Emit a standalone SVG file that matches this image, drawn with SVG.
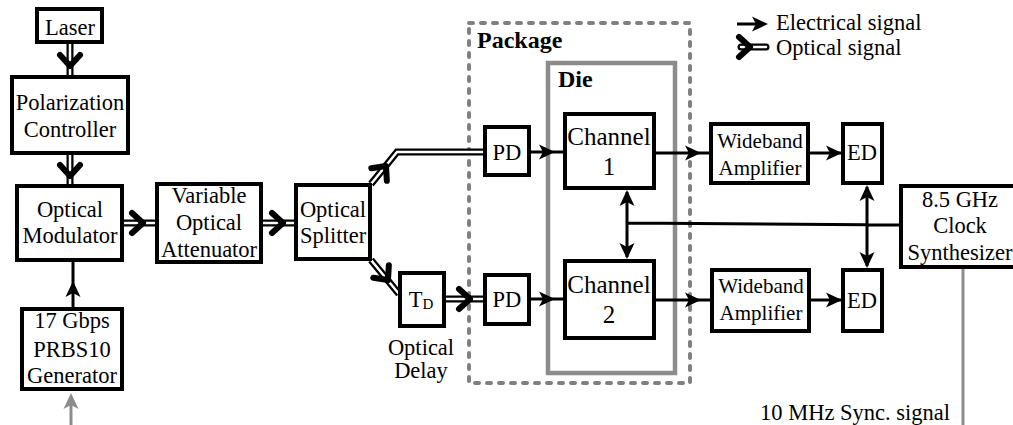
<svg xmlns="http://www.w3.org/2000/svg" xmlns:xlink="http://www.w3.org/1999/xlink" width="1013" height="425" viewBox="0 0 1013 425" font-family="'Liberation Serif', 'Times New Roman', 'DejaVu Serif', serif">
  <style>
    text { font-family: 'Liberation Serif', 'Times New Roman', 'DejaVu Serif', serif; fill: #000; }
    .t { font-size: 22.5px; text-anchor: middle; }
    .ch { font-size: 25px; text-anchor: middle; }
    .wa { font-size: 21px; text-anchor: middle; }
    .lg { font-size: 22.5px; }
    .lbl { font-size: 24px; font-weight: bold; }
    .box { fill: #fff; stroke: #000; stroke-width: 4; }
    .pkg { fill: none; stroke: #808080; stroke-width: 4; stroke-dasharray: 4 8; stroke-linecap: round; }
    .die { fill: none; stroke: #8c8c8c; stroke-width: 4.5; }
    .opt-o { fill: none; stroke: #000; stroke-width: 7; }
    .opt-i { fill: none; stroke: #fff; stroke-width: 2.5; }
    .el { fill: none; stroke: #000; stroke-width: 3; }
    .el-g { fill: none; stroke: #8c8c8c; stroke-width: 3; }
  </style>
  <defs>
    <!-- electrical arrowhead, tip at origin, pointing +x -->
    <path id="eh" d="M0 0 L-16 -7.5 L-12 0 L-16 7.5 Z"/>
    <!-- optical chevron, tip at origin, pointing +x -->
    <path id="oh" d="M-11 -10 L0 0 L-11 10" fill="none" stroke="#000" stroke-width="6" stroke-linecap="round" stroke-linejoin="round"/>
  </defs>

  <!-- enclosures -->
  <g id="package">
    <rect class="pkg" x="469" y="23" width="221" height="360"/>
    <text class="lbl" x="477" y="48">Package</text>
  </g>
  <g id="die">
    <rect class="die" x="548" y="63" width="127" height="310"/>
    <text class="lbl" x="558" y="87">Die</text>
  </g>

  <!-- connectors -->
  <g id="connectors">
    <!-- optical links -->
    <path class="opt-o" d="M70 44 V75 M70 155 V184 M124 223 H155 M263 223 H294 M371 184 L397 152 H483 M371 260 L399 294 M446 299 H483"/>
    <path class="opt-i" d="M70 44 V75 M70 155 V184 M124 223 H155 M263 223 H294 M371 184 L397 152 H483 M371 260 L399 294 M446 299 H483"/>
    <use xlink:href="#oh" transform="translate(70,66) rotate(90)"/>
    <use xlink:href="#oh" transform="translate(70,176) rotate(90)"/>
    <use xlink:href="#oh" transform="translate(143,223)"/>
    <use xlink:href="#oh" transform="translate(283,223)"/>
    <use xlink:href="#oh" transform="translate(386,166) rotate(-51)"/>
    <use xlink:href="#oh" transform="translate(388,280) rotate(51)"/>
    <use xlink:href="#oh" transform="translate(470,299)"/>

    <!-- electrical links -->
    <path class="el" d="M73 309 V262"/>
    <use xlink:href="#eh" transform="translate(73,281) rotate(-90)"/>
    <path class="el-g" d="M71 425 V398"/>
    <use xlink:href="#eh" fill="#8c8c8c" transform="translate(71,393) rotate(-90)"/>

    <path class="el" d="M529 152 H565 M529 299 H565"/>
    <use xlink:href="#eh" transform="translate(555,152)"/>
    <use xlink:href="#eh" transform="translate(555,299)"/>

    <path class="el" d="M654 153 H711 M654 300 H712"/>
    <use xlink:href="#eh" transform="translate(701,153)"/>
    <use xlink:href="#eh" transform="translate(701,300)"/>

    <path class="el" d="M808 153 H843 M809 300 H843"/>
    <use xlink:href="#eh" transform="translate(842,153)"/>
    <use xlink:href="#eh" transform="translate(842,300)"/>

    <!-- clock distribution -->
    <path class="el" d="M901 225 L627 223 M627 192 V257 M867 187 V266"/>
    <use xlink:href="#eh" transform="translate(627,190) rotate(-90)"/>
    <use xlink:href="#eh" transform="translate(627,259) rotate(90)"/>
    <use xlink:href="#eh" transform="translate(867,185) rotate(-90)"/>
    <use xlink:href="#eh" transform="translate(867,268) rotate(90)"/>

    <!-- sync reference -->
    <path class="el-g" d="M963 267 V425"/>
  </g>

  <!-- nodes -->
  <g id="laser">
    <rect class="box" x="37" y="9" width="65" height="33"/>
    <text class="t" x="70" y="35">Laser</text>
  </g>
  <g id="polarization-controller">
    <rect class="box" x="12" y="77" width="116" height="76"/>
    <text class="t" x="70" y="110">Polarization</text>
    <text class="t" x="70" y="137">Controller</text>
  </g>
  <g id="optical-modulator">
    <rect class="box" x="17" y="186" width="105" height="74"/>
    <text class="t" x="70" y="217">Optical</text>
    <text class="t" x="70" y="243">Modulator</text>
  </g>
  <g id="voa">
    <rect class="box" x="157" y="184" width="104" height="78"/>
    <text class="t" x="209" y="203">Variable</text>
    <text class="t" x="209" y="230">Optical</text>
    <text class="t" x="209" y="257">Attenuator</text>
  </g>
  <g id="prbs-generator">
    <rect class="box" x="22" y="309" width="100" height="80"/>
    <text class="t" x="72" y="328">17 Gbps</text>
    <text class="t" x="72" y="357">PRBS10</text>
    <text class="t" x="72" y="383">Generator</text>
  </g>
  <g id="optical-splitter">
    <rect class="box" x="296" y="185" width="74" height="74"/>
    <text class="t" x="333" y="217">Optical</text>
    <text class="t" x="333" y="243">Splitter</text>
  </g>
  <g id="optical-delay">
    <rect class="box" x="400" y="273" width="44" height="53"/>
    <text class="t" x="421" y="307">T<tspan font-size="15" dy="2">D</tspan></text>
    <text class="t" x="421" y="355">Optical</text>
    <text class="t" x="421" y="378">Delay</text>
  </g>
  <g id="pd1">
    <rect class="box" x="485" y="127" width="44" height="48"/>
    <text class="t" x="507" y="160">PD</text>
  </g>
  <g id="pd2">
    <rect class="box" x="485" y="275" width="44" height="49"/>
    <text class="t" x="507" y="307">PD</text>
  </g>
  <g id="channel1">
    <rect class="box" x="565" y="114" width="89" height="74"/>
    <text class="ch" x="609" y="145">Channel</text>
    <text class="ch" x="609" y="175">1</text>
  </g>
  <g id="channel2">
    <rect class="box" x="565" y="261" width="89" height="77"/>
    <text class="ch" x="609" y="293">Channel</text>
    <text class="ch" x="609" y="323">2</text>
  </g>
  <g id="amp1">
    <rect class="box" x="711" y="124" width="97" height="59"/>
    <text class="wa" x="760" y="148">Wideband</text>
    <text class="wa" x="760" y="175">Amplifier</text>
  </g>
  <g id="amp2">
    <rect class="box" x="712" y="270" width="97" height="61"/>
    <text class="wa" x="761" y="293">Wideband</text>
    <text class="wa" x="761" y="320">Amplifier</text>
  </g>
  <g id="ed1">
    <rect class="box" x="843" y="124" width="39" height="59"/>
    <text class="t" x="862" y="160">ED</text>
  </g>
  <g id="ed2">
    <rect class="box" x="843" y="270" width="39" height="61"/>
    <text class="t" x="862" y="308">ED</text>
  </g>
  <g id="clock-synth">
    <rect class="box" x="901" y="186" width="120" height="81"/>
    <text class="t" x="960" y="207">8.5 GHz</text>
    <text class="t" x="960" y="233">Clock</text>
    <text class="t" x="960" y="260">Synthesizer</text>
  </g>
  <g id="sync-label">
    <text class="lg" x="760" y="420">10 MHz Sync. signal</text>
  </g>

  <!-- legend -->
  <g id="legend">
    <path class="el" d="M737 24 H760"/>
    <use xlink:href="#eh" transform="translate(768,24)"/>
    <text class="lg" x="776" y="30">Electrical signal</text>
    <path d="M741 47 H766" fill="none" stroke="#000" stroke-width="7" stroke-linecap="round"/>
    <path d="M741 47 H766" fill="none" stroke="#fff" stroke-width="2.5" stroke-linecap="round"/>
    <use xlink:href="#oh" transform="translate(750,47)"/>
    <text class="lg" x="776" y="55">Optical signal</text>
  </g>
</svg>
